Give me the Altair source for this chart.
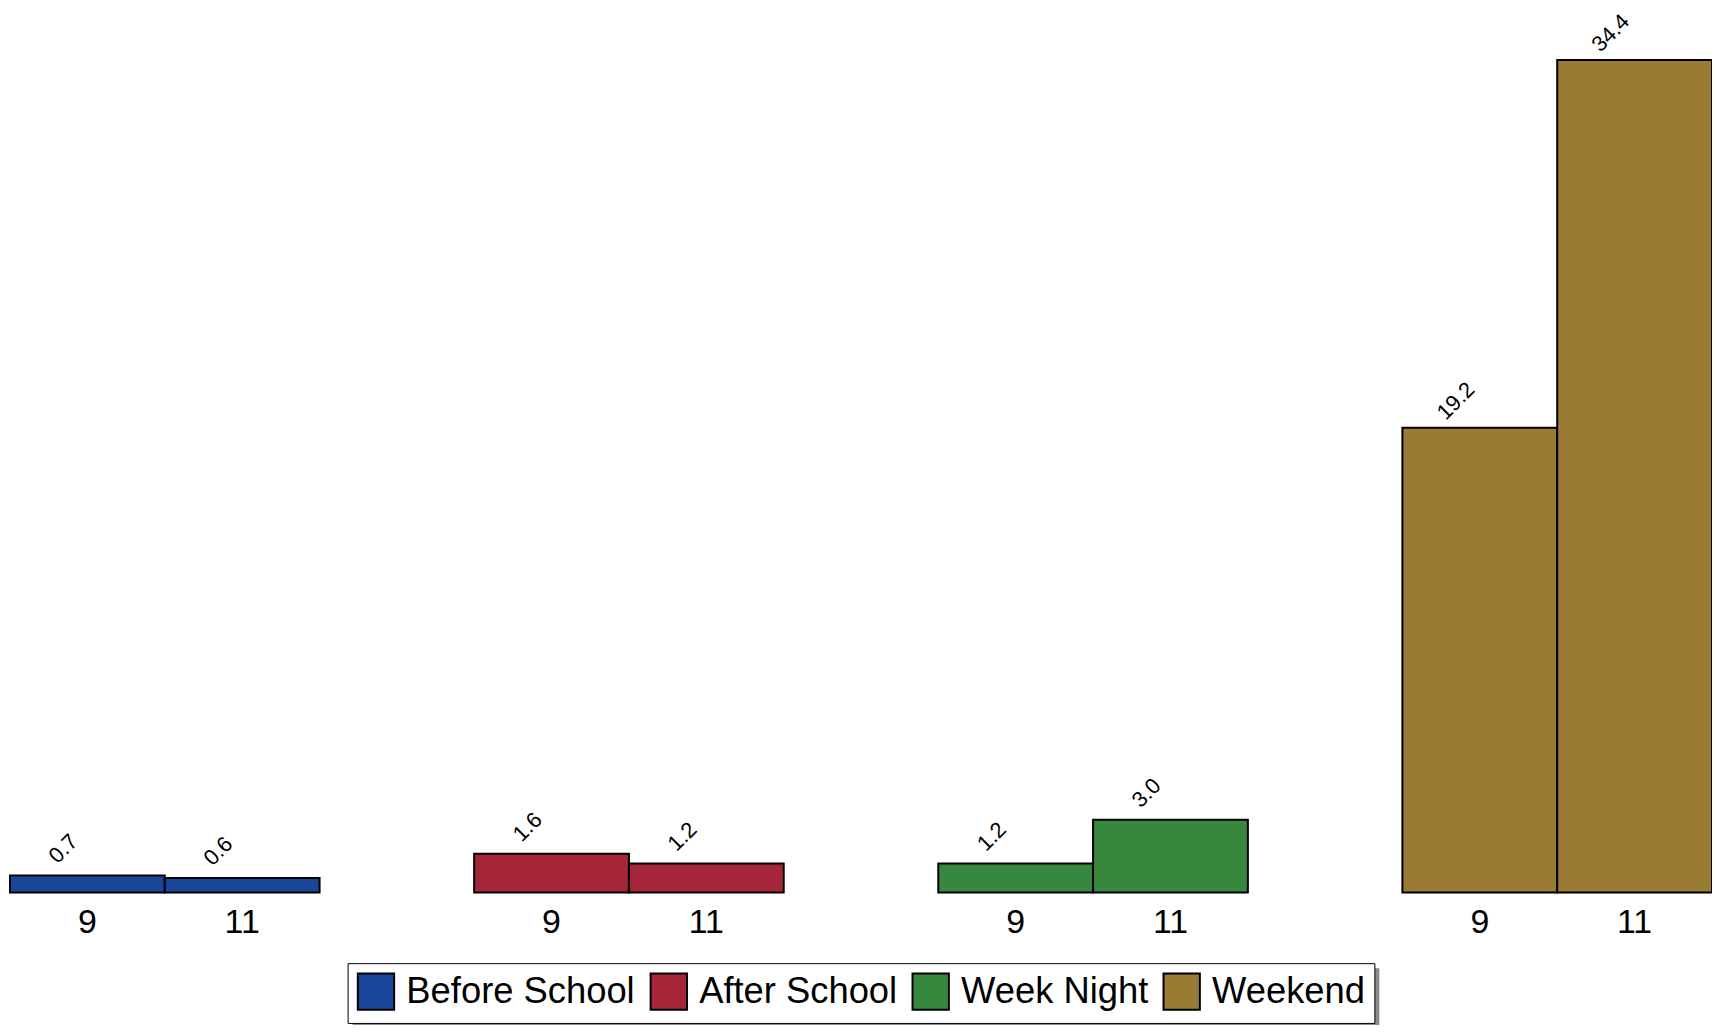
import altair as alt
import pandas as pd

categories = ["Before School", "After School", "Week Night", "Weekend"]
grades = ["9", "11"]
grade9_values = [0.7, 1.6, 1.2, 19.2]
grade11_values = [0.6, 1.2, 3.0, 34.4]
colors = ["#1A469A", "#A52639", "#38873F", "#997B34"]

rows = []
for c, v9, v11 in zip(categories, grade9_values, grade11_values):
    rows.append({"category": c, "grade": "9", "value": v9})
    rows.append({"category": c, "grade": "11", "value": v11})
df = pd.DataFrame(rows)

FONT = "Liberation Sans"
LEG_X, LEG_Y = 339, 907
LEG_W, LEG_H = 1031, 57

x = alt.X("category:N", sort=categories, axis=None,
          scale=alt.Scale(paddingInner=0.333, paddingOuter=0))
xoff = alt.XOffset("grade:N", sort=grades, scale=alt.Scale(paddingInner=0, paddingOuter=0))
y = alt.Y("value:Q", axis=None, scale=alt.Scale(domain=[0, 34.4], nice=False, zero=True))

# legend drop shadow (decoration)
shadow = alt.Chart(pd.DataFrame({"s": [0]})).mark_rect(color="#8c8c8c", clip=False).encode(
    x=alt.value(LEG_X + 5), x2=alt.value(LEG_X + 5 + LEG_W),
    y=alt.value(LEG_Y + 5), y2=alt.value(LEG_Y + 5 + LEG_H),
)

bars = alt.Chart(df).mark_bar(stroke="black", strokeWidth=2).encode(
    x=x, xOffset=xoff, y=y,
    color=alt.Color("category:N", sort=categories,
                    scale=alt.Scale(domain=categories, range=colors),
                    legend=alt.Legend(
                        title=None, orient="none", direction="horizontal",
                        legendX=LEG_X, legendY=LEG_Y,
                        symbolType="square", symbolSize=1332,
                        symbolStrokeColor="black", symbolStrokeWidth=2,
                        symbolOpacity=1,
                        labelFont=FONT, labelFontSize=36.5, labelColor="black",
                        labelOffset=11, columnPadding=11,
                        padding=9, strokeColor="black", fillColor="white",
                        labelLimit=400,
                    )),
)

labels = alt.Chart(df).mark_text(
    angle=315, dx=2, dy=-36, align="center", baseline="middle",
    font=FONT, fontSize=22, color="black",
).encode(
    x=x, xOffset=xoff, y=y,
    text=alt.Text("value:Q", format=".1f"),
)

grade_labels = alt.Chart(df).mark_text(
    align="center", baseline="middle", dy=31,
    font=FONT, fontSize=34, color="black",
).encode(
    x=x, xOffset=xoff, y=alt.datum(0),
    text="grade:N",
)

chart = alt.layer(shadow, bars, labels, grade_labels).properties(
    width=1709, height=836,
    autosize=alt.AutoSizeParams(type="none"),
    padding={"left": 2, "top": 50, "right": 0, "bottom": 134},
).configure_view(stroke=None)

chart.save("out.html", embed_options={"renderer": "svg", "actions": False})
